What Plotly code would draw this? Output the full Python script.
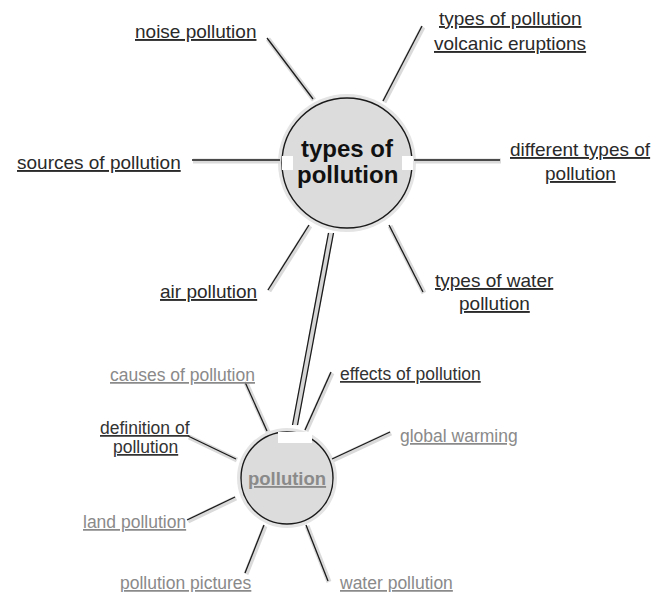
import plotly.graph_objects as go

W, H = 668, 592
OFF = 8  # page body margin in the browser

# ---- data ----
main_lines = ["types of", "pollution"]
sub_topic = "pollution"

main_labels = [["noise pollution"], ["types of pollution", "volcanic eruptions"], ["sources of pollution"],
               ["different types of", "pollution"], ["air pollution"], ["types of water", "pollution"]]
sub_labels = [["causes of pollution"], ["effects of pollution"], ["definition of", "pollution"],
              ["global warming"], ["land pollution"], ["pollution pictures"], ["water pollution"]]
sub_label_active = [False, True, True, False, False, False, False]

# ---- layout geometry (pixel space) ----
big_c = (347, 163, 65)
small_c = (287, 478, 46)

main_pos = [(258, 31, "right", 0), (510, 18, "center", 25), (183, 162, "right", 0),
            (580, 149, "center", 24), (259, 291, "right", 0), (494, 280, "center", 23)]
sub_pos = [(257, 375, "right", 0), (338, 374, "left", 0), (145, 428, "center", 19),
           (398, 436, "left", 0), (188, 522, "right", 0), (254, 583, "right", 0),
           (337, 583, "left", 0)]

main_spokes = [((267, 38), (313, 99)), ((422, 26), (383, 101)), ((192, 160), (280, 160)),
               ((414, 160), (500, 160)), ((268, 290), (309, 225)), ((423, 292), (389, 225))]
sub_spokes = [((245, 382), (267, 431)), ((331, 372), (305, 430)), ((188, 436), (236, 459)),
              ((390, 432), (332, 459)), ((187, 520), (235, 497)), ((245, 573), (264, 525)),
              ((328, 581), (306, 525))]
connector = ((333, 233), (297, 425))

fig = go.Figure()

def add_line(p, q, halo=True):
    if halo:
        fig.add_trace(go.Scatter(x=[p[0] + 1, q[0] + 1], y=[p[1] + 1, q[1] + 1], mode="lines",
                                 line=dict(color="#dadada", width=5), hoverinfo="skip",
                                 showlegend=False))
    fig.add_trace(go.Scatter(x=[p[0], q[0]], y=[p[1], q[1]], mode="lines",
                             line=dict(color="#1a1a1a", width=1.3), hoverinfo="skip",
                             showlegend=False))

for p, q in main_spokes + sub_spokes:
    add_line(p, q)

# double connector between the two topics
(cx0, cy0), (cx1, cy1) = connector
fig.add_trace(go.Scatter(x=[cx0 - 2, cx1 - 2], y=[cy0, cy1], mode="lines",
                         line=dict(color="#d6d6d6", width=6), hoverinfo="skip", showlegend=False))
for dx in (-4.5, 0.5):
    fig.add_trace(go.Scatter(x=[cx0 + dx, cx1 + dx], y=[cy0, cy1], mode="lines",
                             line=dict(color="#1a1a1a", width=1.3), hoverinfo="skip",
                             showlegend=False))

shapes = []
for (cx, cy, r) in [big_c, small_c]:
    shapes.append(dict(type="circle", xref="x", yref="y", x0=cx - r - 4, x1=cx + r + 4,
                       y0=cy - r - 4, y1=cy + r + 4, fillcolor="#e4e4e4",
                       line=dict(width=0), layer="below"))
    shapes.append(dict(type="circle", xref="x", yref="y", x0=cx - r, x1=cx + r,
                       y0=cy - r, y1=cy + r, fillcolor="#dcdcdc",
                       line=dict(color="#1a1a1a", width=1.4), layer="above"))
tabs = [(282, 156, 293, 170), (402, 156, 413, 170), (278, 432, 312, 443)]
for x0, y0, x1, y1 in tabs:
    shapes.append(dict(type="rect", xref="x", yref="y", x0=x0, x1=x1, y0=y0, y1=y1,
                       fillcolor="white", line=dict(width=0), layer="above"))

FONT = "Liberation Sans, Arial, sans-serif"
annotations = []

def add_label(lines, x, y, al, dy, size, color, bold=False):
    for i, ln in enumerate(lines):
        t = "<u>" + ln + "</u>"
        if bold:
            t = "<b>" + t + "</b>"
        annotations.append(dict(x=x, y=y + i * dy, text=t, xanchor=al, yanchor="middle",
                                showarrow=False, font=dict(family=FONT, size=size, color=color)))

for lines, (x, y, al, dy) in zip(main_labels, main_pos):
    add_label(lines, x, y, al, dy, 19, "#2a2a2a")
for lines, (x, y, al, dy), act in zip(sub_labels, sub_pos, sub_label_active):
    add_label(lines, x, y, al, dy, 17.5, "#333333" if act else "#8a8a8a")

for i, ln in enumerate(main_lines):
    annotations.append(dict(x=big_c[0], y=big_c[1] - 15 + i * 26, text="<b>" + ln + "</b>",
                            xanchor="center", yanchor="middle", showarrow=False,
                            font=dict(family=FONT, size=24, color="#111111")))
add_label([sub_topic], small_c[0], small_c[1], "center", 0, 18.5, "#8a8a8a", bold=True)

fig.update_layout(width=W - OFF, height=H - OFF, margin=dict(l=0, r=0, t=0, b=0),
                  paper_bgcolor="white", plot_bgcolor="white",
                  shapes=shapes, annotations=annotations,
                  xaxis=dict(range=[OFF, W], visible=False, fixedrange=True),
                  yaxis=dict(range=[H, OFF], visible=False, fixedrange=True),
                  showlegend=False)

fig.write_html("out.html")
